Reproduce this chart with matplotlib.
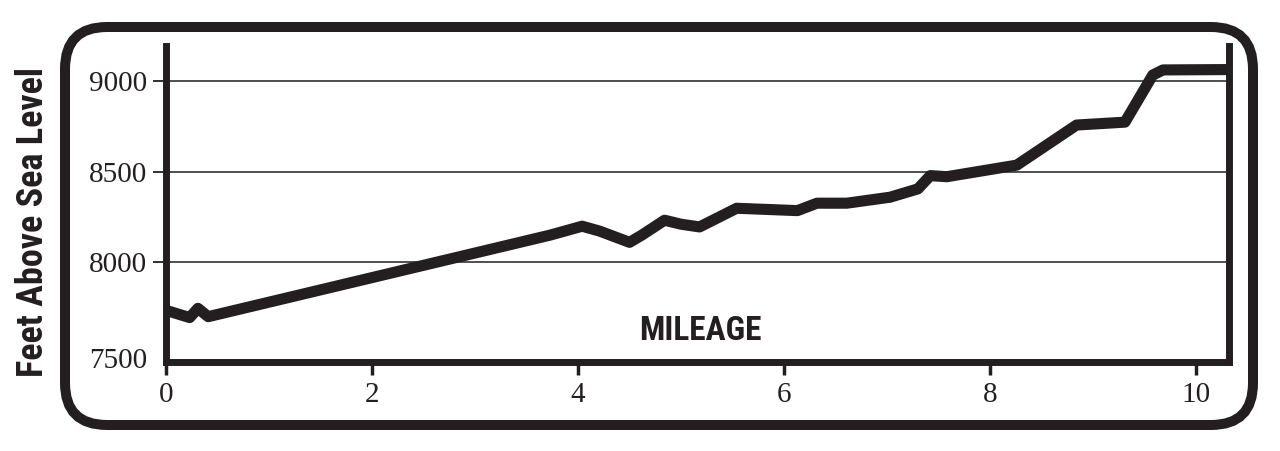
import matplotlib
matplotlib.use("Agg")
import matplotlib.pyplot as plt
from matplotlib import font_manager
from matplotlib.patches import FancyBboxPatch
from matplotlib.transforms import ScaledTranslation

# ---- data ----
miles = [0.00, 0.23, 0.31, 0.41, 3.73, 4.04, 4.21, 4.50, 4.62, 4.84, 5.00,
         5.18, 5.54, 6.13, 6.32, 6.61, 7.03, 7.30, 7.42, 7.58, 8.26, 8.84,
         9.31, 9.58, 9.68, 10.32]
elev = [7735, 7695, 7746, 7700, 8150, 8199, 8172, 8110, 8150, 8232, 8210,
        8195, 8298, 8285, 8326, 8326, 8359, 8405, 8478, 8472, 8536, 8757,
        8773, 9033, 9061, 9063]
xticks = [0, 2, 4, 6, 8, 10]
yticks = [7500, 8000, 8500, 9000]
ylabel = "Feet Above Sea Level"
xlabel = "MILEAGE"

INK = "#231f20"

# pick a condensed bold sans for the labels
names = {f.name for f in font_manager.fontManager.ttflist}
cond_family = None
cond_stretch = "normal"
for cand in ["Liberation Sans Narrow", "DejaVu Sans Condensed", "Roboto Condensed",
             "Open Sans Condensed"]:
    if cand in names:
        cond_family = cand
        break
if cond_family is None:
    for f in font_manager.fontManager.ttflist:
        if f.name == "DejaVu Sans" and "Condensed" in f.fname:
            cond_family = "DejaVu Sans"
            cond_stretch = "condensed"
            break
if cond_family is None:
    cond_family = "DejaVu Sans"
    cond_stretch = "condensed"

serif = ["Liberation Serif", "DejaVu Serif"]

W, H = 1280, 451
fig = plt.figure(figsize=(W / 100, H / 100), dpi=100)
fig.patch.set_facecolor("white")

ax = fig.add_axes([166 / W, 1 - 362 / H, (1229 - 166) / W, (362 - 46) / H])
ax.plot(miles, elev, color=INK, lw=8, solid_joinstyle="round",
        solid_capstyle="butt", zorder=3, clip_on=True)

ax.set_xlim(0, 10.32)
ax.set_ylim(7450, 9193)
ax.set_xticks(xticks)
ax.set_yticks(yticks)
ax.set_xticklabels([str(v) for v in xticks], family=serif, fontsize=21, color=INK)
ax.set_yticklabels([str(v) for v in yticks], family=serif, fontsize=21, color=INK)

for s in ["left", "bottom", "right"]:
    ax.spines[s].set_linewidth(5)
    ax.spines[s].set_color(INK)
ax.spines["top"].set_visible(False)

ax.tick_params(axis="y", direction="out", length=9.5, width=1.3, pad=4, colors=INK)
ax.tick_params(axis="x", direction="out", length=9.5, width=2.5, pad=5, colors=INK)
ax.yaxis.grid(True, color=INK, lw=1.1)
ax.set_axisbelow(True)

# the lowest value has a label but no grid line / tick mark
low = ax.yaxis.get_major_ticks()[0]
low.gridline.set_visible(False)
low.tick1line.set_visible(False)
low.label1.set_transform(low.label1.get_transform()
                         + ScaledTranslation(0, -0.05, fig.dpi_scale_trans))

fig.text(33 / W, 1 - 222 / H, ylabel, rotation=90, ha="center", va="center",
         family=[cond_family, "DejaVu Sans"], stretch=cond_stretch,
         weight="bold", fontsize=26, color=INK)
fig.text(700 / W, 1 - 331 / H, xlabel, ha="center", va="center",
         family=[cond_family, "DejaVu Sans"], stretch=cond_stretch,
         weight="bold", fontsize=24, color=INK)

# rounded outer frame (in inches so corners stay circular)
x0, x1 = 65 / 100, 1253 / 100
y0, y1 = (H - 425) / 100, (H - 27) / 100
frame = FancyBboxPatch((x0, y0), x1 - x0, y1 - y0,
                       boxstyle="round,pad=0,rounding_size=0.42",
                       transform=fig.dpi_scale_trans, fill=False,
                       edgecolor=INK, lw=7.2, zorder=0)
fig.add_artist(frame)

fig.savefig("out.png", dpi=100)
